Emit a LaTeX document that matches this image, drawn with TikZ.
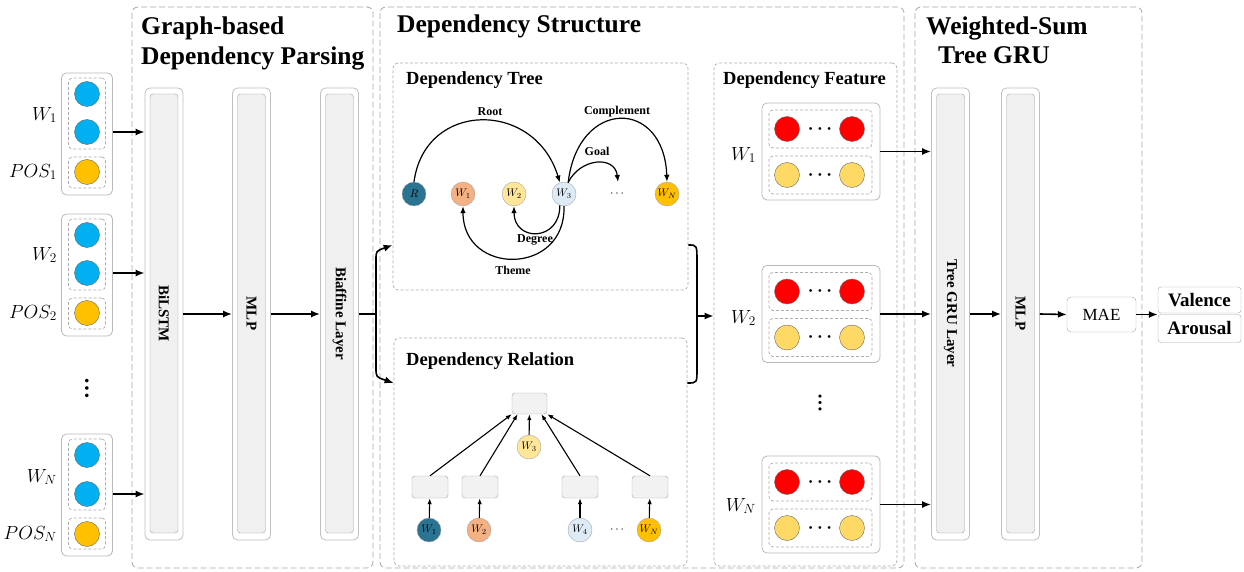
\RequirePackage{fix-cm}
\documentclass[tikz,border=0pt]{standalone}
\usepackage{fontspec}
\setmainfont{Liberation Serif}
\usepackage{tikz}
\usetikzlibrary{positioning,calc,arrows.meta}

\definecolor{inblue}{HTML}{00B0F0}
\definecolor{inorange}{HTML}{FFC000}
\definecolor{tealR}{HTML}{2A7391}
\definecolor{peach}{HTML}{F4B183}
\definecolor{ltyellow}{HTML}{FFE699}
\definecolor{ltblue}{HTML}{DEEBF7}
\definecolor{gold}{HTML}{FFC000}
\definecolor{featred}{HTML}{FF0000}
\definecolor{featyellow}{HTML}{FFD966}

\tikzset{
  panel/.style={draw=gray!70, dash pattern=on 6pt off 3pt, line width=0.8pt, rounded corners=6pt},
  subpanel/.style={draw=gray!65, dash pattern=on 3pt off 2pt, line width=0.7pt, rounded corners=5pt},
  inbox/.style={draw=gray!55, fill=white, rounded corners=5pt, line width=0.8pt, minimum width=51pt, minimum height=122pt},
  featbox/.style={draw=gray!55, fill=white, rounded corners=5pt, line width=0.8pt, minimum width=118pt, minimum height=97pt},
  slot/.style={draw=gray!65, dash pattern=on 3pt off 2pt, line width=0.7pt, rounded corners=4pt, minimum width=37pt},
  rowslot/.style={draw=gray!65, dash pattern=on 3pt off 2pt, line width=0.7pt, rounded corners=4pt, minimum width=103pt, minimum height=38pt},
  colout/.style={draw=gray!50, fill=white, rounded corners=5pt, line width=0.8pt, minimum width=38pt, minimum height=452pt},
  colin/.style={draw=gray!75, fill=gray!12, rounded corners=3pt, minimum width=28pt, minimum height=439pt},
  coltext/.style={rotate=-90, font=\fontsize{15}{16}\selectfont\bfseries},
  dot/.style={circle, draw=gray!80!black, minimum size=25pt, inner sep=0pt},
  tok/.style={circle, draw=gray!70, minimum size=24pt, inner sep=0pt, font=\fontsize{11}{12}\selectfont},
  relbox/.style={draw=gray!70, fill=gray!10, rounded corners=3pt, minimum width=36pt, minimum height=22pt},
  lbl/.style={font=\fontsize{19}{22}\selectfont, inner sep=1pt},
  title/.style={font=\fontsize{25.5}{30}\selectfont\bfseries, inner sep=0pt, anchor=base west},
  subtitle/.style={font=\fontsize{18.5}{20}\selectfont\bfseries, inner sep=0pt, anchor=base west},
  arclbl/.style={font=\fontsize{12}{13}\selectfont\bfseries, inner sep=1pt},
  bigdots/.style={font=\fontsize{18}{18}\selectfont\boldmath, inner sep=0pt},
  vdotsnode/.style={rotate=90, inner sep=0pt, font=\fontsize{22}{22}\selectfont\bfseries},
  arr/.style={-{Latex[length=9pt,width=7pt]}, line width=1.6pt},
  arcarr/.style={-{Latex[length=7pt,width=5.5pt]}, line width=1.2pt},
  relarr/.style={-{Latex[length=6pt,width=4.5pt]}, line width=1.1pt}
}

\begin{document}
\begin{tikzpicture}[x=1pt,y=-1pt]
    \useasboundingbox (0,0) rectangle (1244,572);

    % panels
    \draw[panel] (132,7) rectangle (373,568);
    \draw[panel] (380,7) rectangle (904,568);
    \draw[panel] (915,7) rectangle (1142,568);
    \node[subpanel, minimum width=295pt, minimum height=227pt] (tree) at (540.5,176.5) {};
    \node[subpanel, minimum width=293pt, minimum height=228pt] (rel) at (540.5,452) {};
    \node[subpanel, minimum width=183pt, minimum height=503pt] (feat) at (805.5,314.5) {};

    % titles
    \node[title] (gb1) at (141,35) {Graph-based};
    \node[title] (gb2) at (141,65) {Dependency Parsing};
    \node[title] (ds) at (397,33) {Dependency Structure};
    \node[title] (ws1) at (926,35) {Weighted-Sum};
    \node[title] (ws2) at (938,64) {Tree GRU};
    \node[subtitle] (dtt) at (406,85) {Dependency Tree};
    \node[subtitle] (drt) at (406,365) {Dependency Relation};
    \node[subtitle] (dft) at (723,85) {Dependency Feature};

    % inputs
    \node[inbox] (in1) at (87,134) {};
    \node[slot, minimum height=71pt] (s1w) at (87,113.5) {};
    \node[slot, minimum height=31pt] (s1p) at (87,172.5) {};
    \node[dot, fill=inblue] (w1a) at (87,94) {};
    \node[dot, fill=inblue] (w1b) at (87,132) {};
    \node[dot, fill=inorange] (p1) at (87,172) {};
    \node[lbl, anchor=east] (lw1) at (58,115) {$W_1$};
    \node[lbl, anchor=east] (lp1) at (58,172) {$POS_1$};

    \node[inbox] (in2) at (87,275) {};
    \node[slot, minimum height=71pt] (s2w) at (87,254.5) {};
    \node[slot, minimum height=31pt] (s2p) at (87,313.5) {};
    \node[dot, fill=inblue] (w2a) at (87,235) {};
    \node[dot, fill=inblue] (w2b) at (87,273) {};
    \node[dot, fill=inorange] (p2) at (87,313) {};
    \node[lbl, anchor=east] (lw2) at (58,255) {$W_2$};
    \node[lbl, anchor=east] (lp2) at (58,313) {$POS_2$};

    \node[vdotsnode] (indots) at (87,388) {…};

    \node[inbox] (in3) at (87,495) {};
    \node[slot, minimum height=71pt] (s3w) at (87,474.5) {};
    \node[slot, minimum height=31pt] (s3p) at (87,533.5) {};
    \node[dot, fill=inblue] (w3a) at (87,455) {};
    \node[dot, fill=inblue] (w3b) at (87,494) {};
    \node[dot, fill=inorange] (p3) at (87,534) {};
    \node[lbl, anchor=east] (lw3) at (58,477) {$W_N$};
    \node[lbl, anchor=east] (lp3) at (58,534) {$POS_N$};

    % parsing columns
    \node[colout] (bilstmO) at (164,314) {};
    \node[colin] (bilstm) at (164,313.5) {};
    \node[coltext] (bilstmT) at (bilstm.center) {BiLSTM};
    \node[colout] (mlpO) at (251.5,314) {};
    \node[colin] (mlp) at (251.5,313.5) {};
    \node[coltext] (mlpT) at (mlp.center) {MLP};
    \node[colout] (biafO) at (339.5,314) {};
    \node[colin] (biaf) at (339.5,313.5) {};
    \node[coltext] (biafT) at (biaf.center) {Biaffine Layer};

    \draw[arr] (in1.east |- w1b) -- (bilstmO.west |- w1b);
    \draw[arr] (in2.east |- w2b) -- (bilstmO.west |- w2b);
    \draw[arr] (in3.east |- w3b) -- (bilstmO.west |- w3b);
    \draw[arr] (bilstmO.east) -- (mlpO.west);
    \draw[arr] (mlpO.east) -- (biafO.west);

    % split into tree and relation
    \coordinate (jl) at (376,314);
    \coordinate (jt) at (376,245);
    \coordinate (jb) at (376,383);
    \draw[line width=1.6pt] (biafO.east) -- (jl);
    \draw[arr] (jl) -- ++(0,-54) .. controls +(0,-9) .. (tree.west |- jt);
    \draw[arr] (jl) -- ++(0,54) .. controls +(0,9) .. (rel.west |- jb);

    % dependency tree
    \node[tok, fill=tealR] (tR) at (414,194) {$R$};
    \node[tok, fill=peach] (t1) at (463,194) {$W_1$};
    \node[tok, fill=ltyellow] (t2) at (514,194) {$W_2$};
    \node[tok, fill=ltblue] (t3) at (564,194) {$W_3$};
    \node[font=\fontsize{12}{12}\selectfont] (tdots) at (617,194) {$\cdots$};
    \node[tok, fill=gold] (tN) at (667,194) {$W_N$};
    \coordinate (goalend) at (618,182);

    \draw[arcarr] (tR.north) .. controls (425,100) and (535,100) .. (t3.110);
    \draw[arcarr] (t3.70) .. controls (578,98) and (664,98) .. (tN.north);
    \draw[arcarr] (t3.70) .. controls (580,158) and (615,155) .. (goalend);
    \draw[arcarr] (t3.250) .. controls (560,242) and (514,242) .. (t2.south);
    \draw[arcarr] (t3.south) .. controls (566,276) and (463,276) .. (t1.south);

    \node[arclbl] (lroot) at (490,112) {Root};
    \node[arclbl] (lcomp) at (617,112) {Complement};
    \node[arclbl] (lgoal) at (597,151) {Goal};
    \node[arclbl] (ldeg) at (535,240) {Degree};
    \node[arclbl] (lthm) at (513,270) {Theme};

    % dependency relation
    \node[relbox, minimum width=35pt, minimum height=21pt] (rtop) at (529.5,403.5) {};
    \node[tok, fill=ltyellow] (r3) at (529,447) {$W_3$};
    \node[relbox] (rb1) at (430,487) {};
    \node[relbox] (rb2) at (480,487) {};
    \node[relbox] (rb4) at (580,487) {};
    \node[relbox] (rbN) at (650,487) {};
    \node[tok, fill=tealR] (r1) at (429,530) {$W_1$};
    \node[tok, fill=peach] (r2) at (479,530) {$W_2$};
    \node[tok, fill=ltblue] (r4) at (580,530) {$W_4$};
    \node[font=\fontsize{12}{12}\selectfont] (rdots) at (617,530) {$\cdots$};
    \node[tok, fill=gold] (rN) at (649,530) {$W_N$};

    \draw[relarr] (r1) -- (rb1);
    \draw[relarr] (r2) -- (rb2);
    \draw[relarr] (r4) -- (rb4);
    \draw[relarr] (rN) -- (rbN);
    \draw[relarr] (rb1.north) -- (rtop.south west);
    \draw[relarr] (rb2.north) -- (rtop.222);
    \draw[relarr] (r3) -- (rtop);
    \draw[relarr] (rb4.north) -- (rtop.318);
    \draw[relarr] (rbN.north) -- (rtop.south east);

    % join into features
    \coordinate (rt) at (697,262);
    \coordinate (rm) at (697,316);
    \coordinate (rbt) at (697,369);
    \draw[line width=1.6pt] (tree.east |- jt) .. controls (rt |- jt) .. (rt) -- (rbt) .. controls (rt |- jb) .. (rel.east |- jb);
    \draw[arr] (rm) -- (feat.west |- rm);

    % dependency features
    \node[featbox] (f1) at (821,151.5) {};
    \node[rowslot] (f1r) at (820.5,129) {};
    \node[rowslot] (f1y) at (820.5,175) {};
    \node[dot, fill=featred] (f1a) at (787,129) {};
    \node[dot, fill=featred] (f1b) at (852,129) {};
    \node[dot, fill=featyellow] (f1c) at (787,175) {};
    \node[dot, fill=featyellow] (f1d) at (852,175) {};
    \node[bigdots] (f1d1) at (820,129) {$\cdots$};
    \node[bigdots] (f1d2) at (820,175) {$\cdots$};
    \node[lbl, anchor=east] (lf1) at (757,155) {$W_1$};

    \node[featbox] (f2) at (821,314) {};
    \node[rowslot] (f2r) at (820.5,291.5) {};
    \node[rowslot] (f2y) at (820.5,337.5) {};
    \node[dot, fill=featred] (f2a) at (787,291.5) {};
    \node[dot, fill=featred] (f2b) at (852,291.5) {};
    \node[dot, fill=featyellow] (f2c) at (787,337.5) {};
    \node[dot, fill=featyellow] (f2d) at (852,337.5) {};
    \node[bigdots] (f2d1) at (820,291.5) {$\cdots$};
    \node[bigdots] (f2d2) at (820,337.5) {$\cdots$};
    \node[lbl, anchor=east] (lf2) at (757,318) {$W_2$};

    \node[vdotsnode, font=\fontsize{19}{19}\selectfont\bfseries] (fdots) at (820,403) {…};

    \node[featbox] (f3) at (821,504.5) {};
    \node[rowslot] (f3r) at (820.5,482) {};
    \node[rowslot] (f3y) at (820.5,528) {};
    \node[dot, fill=featred] (f3a) at (787,482) {};
    \node[dot, fill=featred] (f3b) at (852,482) {};
    \node[dot, fill=featyellow] (f3c) at (787,528) {};
    \node[dot, fill=featyellow] (f3d) at (852,528) {};
    \node[bigdots] (f3d1) at (820,482) {$\cdots$};
    \node[bigdots] (f3d2) at (820,528) {$\cdots$};
    \node[lbl, anchor=east] (lf3) at (757,506) {$W_N$};

    % tree gru
    \node[colout] (gruO) at (950.5,314) {};
    \node[colin] (gru) at (950.5,313.5) {};
    \node[coltext] (gruT) at (gru.center) {Tree GRU Layer};
    \node[colout] (mlp2O) at (1020.5,314) {};
    \node[colin] (mlp2) at (1020.5,313.5) {};
    \node[coltext] (mlp2T) at (mlp2.center) {MLP};

    \draw[arr] (f1.east) -- (gruO.west |- f1.east);
    \draw[arr] (f2.east) -- (gruO.west |- f2.east);
    \draw[arr] (f3.east) -- (gruO.west |- f3.east);
    \draw[arr] (gruO.east) -- (mlp2O.west);

    % output
    \node[draw=gray!70, rounded corners=4pt, minimum width=69pt, minimum height=35pt, font=\fontsize{17}{18}\selectfont] (mae) at (1101.5,314.5) {MAE};
    \node[draw=gray!70, rounded corners=3pt, minimum width=83pt, minimum height=26pt, inner sep=0pt, font=\fontsize{19}{20}\selectfont\bfseries] (val) at (1199.5,300) {Valence};
    \node[draw=gray!70, rounded corners=3pt, minimum width=83pt, minimum height=28pt, inner sep=0pt, font=\fontsize{19}{20}\selectfont\bfseries] (aro) at (1199.5,328.5) {Arousal};
    \draw[arr] (mlp2O.east) -- (mae.west);
    \draw[arr] (mae.east) -- (mae.east -| val.west);
\end{tikzpicture}
\end{document}
